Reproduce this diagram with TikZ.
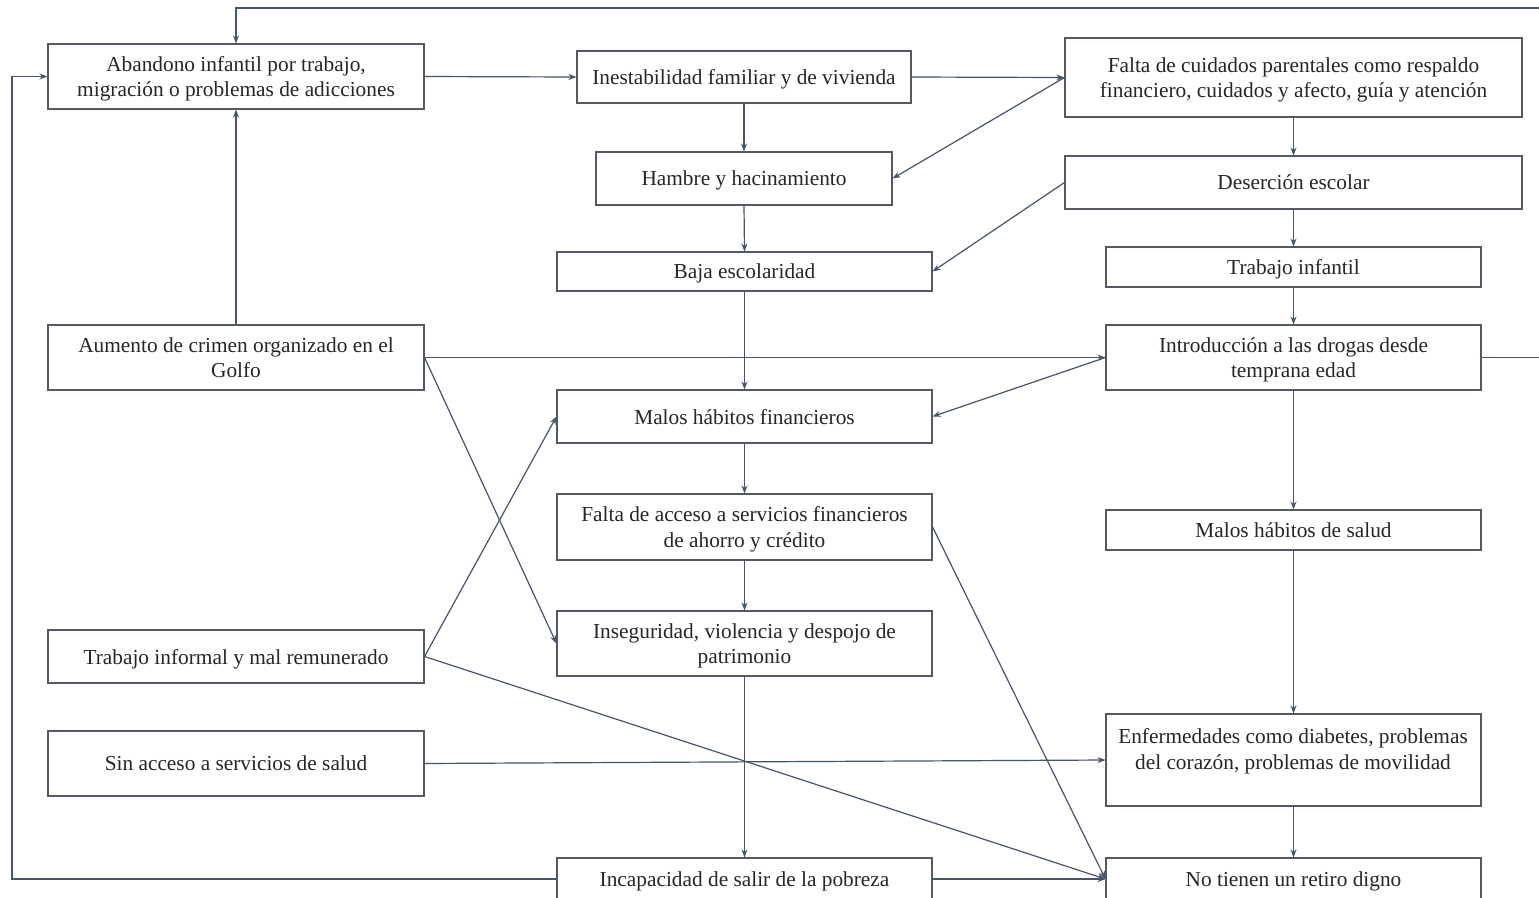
\documentclass[tikz,border=0pt]{standalone}
\usepackage{fontspec}
\setmainfont{Liberation Serif}
\usetikzlibrary{arrows.meta,calc}
\definecolor{ln}{RGB}{72,84,104}
\definecolor{bd}{RGB}{85,90,98}
\newcommand\mybox[6]{\node[box, minimum width={(#4-#2)*0.75pt}, minimum height={(#5-#3)*0.75pt}] (#1) at ({(#2+#4)/2},{(#3+#5)/2}) {#6};}
\begin{document}
\begin{tikzpicture}[x=0.75pt,y=-0.75pt,
  box/.style={draw=bd, line width=0.8pt, inner sep=0pt, align=center, text depth=0pt, font=\fontsize{16}{19}\selectfont, text=black!85},
  txt/.style={inner sep=0pt, align=center, text depth=0pt, font=\fontsize{16}{19}\selectfont, text=black!85},
  arr/.style={draw=ln, line width=0.9pt, -{Stealth[length=6pt,width=4.5pt]}}]
\useasboundingbox (0,0) rectangle (1539,897);
\fill[white] (0,0) rectangle (1539,897);

\mybox{aban}{48}{44}{424}{109}{Abandono infantil por trabajo,\\migración o problemas de adicciones}
\mybox{inest}{577}{51}{911}{103}{Inestabilidad familiar y de vivienda}
\mybox{falta}{1065}{38}{1522}{117}{Falta de cuidados parentales como respaldo\\financiero, cuidados y afecto, guía y atención}
\mybox{hambre}{596}{152}{892}{205}{Hambre y hacinamiento}
\mybox{deser}{1065}{156}{1522}{209}{Deserción escolar}
\mybox{baja}{557}{252}{932}{291}{Baja escolaridad}
\mybox{trinf}{1106}{247}{1481}{287}{Trabajo infantil}
\mybox{aum}{48}{325}{424}{390}{Aumento de crimen organizado en el\\Golfo}
\mybox{intro}{1106}{325}{1481}{390}{Introducción a las drogas desde\\temprana edad}
\mybox{malfin}{557}{390}{932}{443}{Malos hábitos financieros}
\mybox{acc}{557}{494}{932}{560}{Falta de acceso a servicios financieros\\de ahorro y crédito}
\mybox{malsal}{1106}{510}{1481}{550}{Malos hábitos de salud}
\mybox{inseg}{557}{611}{932}{676}{Inseguridad, violencia y despojo de\\patrimonio}
\mybox{trinfor}{48}{630}{424}{683}{Trabajo informal y mal remunerado}
\mybox{sinacc}{48}{731}{424}{796}{Sin acceso a servicios de salud}
\mybox{enf}{1106}{714}{1481}{806}{}
\node[txt] (enftxt) at (1293,749) {Enfermedades como diabetes, problemas\\del corazón, problemas de movilidad};
\mybox{incap}{557}{858}{932}{900}{Incapacidad de salir de la pobreza}
\mybox{retiro}{1106}{858}{1481}{900}{No tienen un retiro digno}

\coordinate (lft) at (12,0);
\coordinate (rt) at (1545,8);

\draw[arr] (aban.east) -- (inest.west);
\draw[arr] (inest.east) -- (falta.west);
\draw[arr] (falta.west) -- (hambre.east);
\draw[arr] (inest.south) -- (hambre.north);
\draw[arr] (hambre.south) -- (baja.north);
\draw[arr] (falta.south) -- (deser.north);
\draw[arr] (deser.west) -- (baja.east);
\draw[arr] (deser.south) -- (trinf.north);
\draw[arr] (trinf.south) -- (intro.north);
\draw[arr] (baja.south) -- (malfin.north);
\draw[arr] (aum.east) -- (intro.west);
\draw[arr] (intro.west) -- (malfin.east);
\draw[arr] (aum.north) -- (aban.south);
\draw[arr] (aum.east) -- (inseg.west);
\draw[arr] (trinfor.east) -- (malfin.west);
\draw[arr] (trinfor.east) -- (retiro.west);
\draw[arr] (malfin.south) -- (acc.north);
\draw[arr] (acc.south) -- (inseg.north);
\draw[arr] (acc.east) -- (retiro.west);
\draw[arr] (inseg.south) -- (incap.north);
\draw[arr] (intro.south) -- (malsal.north);
\draw[arr] (malsal.south) -- (enf.north);
\draw[arr] (sinacc.east) -- (enf.west);
\draw[arr] (enf.south) -- (retiro.north);
\draw[arr] (incap.east) -- (retiro.west);
\draw[arr] (incap.west) -- (incap.west -| lft) |- (aban.west);
\draw[arr] (intro.east) -- (intro.east -| rt) -- (rt) -| (aban.north);
\end{tikzpicture}
\end{document}
